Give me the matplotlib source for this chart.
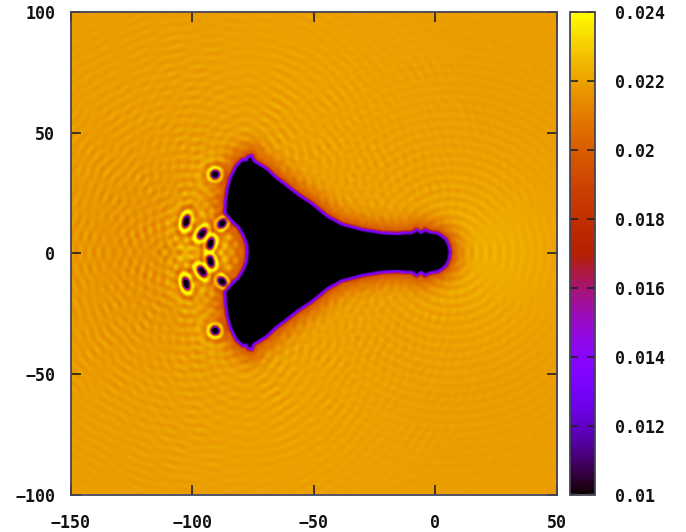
import numpy as np
import matplotlib
matplotlib.use('Agg')
import matplotlib.pyplot as plt
from matplotlib.path import Path

# Upper half of the hole outline (x, y), tail tip to inner arc
outline_x = [5.6, 5.2, 4.2, 2.5, 0.5, -2.5, -4.5, -6, -8, -10, -12, -16, -22, -30, -39, -45, -51,
             -57, -62, -66, -70, -73, -75, -76, -77.2, -78, -79.5, -82, -84.5, -85.8, -86.4, -86.6,
             -86.2, -84.5, -81.2, -79, -77.8, -77.4]
outline_y = [0, 2.5, 5.0, 6.6, 7.8, 8.2, 9.2, 8.0, 9.2, 7.9, 8.0, 7.6, 7.9, 9.2, 11.6, 15, 20,
             24, 28, 31, 34.8, 36.6, 37.8, 40, 39.6, 38.2, 38.4, 36, 31, 26, 21, 17,
             15.8, 13.8, 10.6, 7, 3.5, 0]

# Vortices in the upper half: centre, stretch along and across the long axis,
# angle of the long axis, how much the bright ring leans to the left
vortex_x = [-90.9, -102.8, -88.1, -96.3, -92.8]
vortex_y = [32.4, 12.9, 12.0, 7.9, 3.7]
vortex_a = [1.0, 1.45, 1.15, 1.4, 1.4]
vortex_b = [1.0, 0.85, 0.85, 0.85, 0.85]
vortex_angle = [0, 75, 50, 55, 75]
vortex_skew = [0.0, 0.45, -0.35, 0.45, -0.45]

# Value against distance from the hole edge and from a vortex centre
edge_dist = [-60, -0.6, -0.1, 0.6, 1.0, 1.5, 3.0, 5.0, 7.5, 11, 300]
edge_val = [0.0100, 0.0100, 0.0130, 0.0138, 0.0178, 0.0199, 0.0205, 0.0211, 0.0216, 0.0219, 0.0219]
vortex_r = [0, 1.1, 1.5, 1.9, 2.4, 2.9, 3.5, 4.2, 5.0, 6.2, 10]
vortex_dv = [-0.0120, -0.0120, -0.0085, -0.0030, 0.0014, 0.0026, 0.0008, -0.0008, -0.0004, 0.0003, 0.0]

# Ripple sources (upper half, mirrored below): x, y, amplitude, wavelength
wave_x = [-77, -91, -103, -88, -96, -60, -30, 6, -86, -45]
wave_y = [40, 32, 13, 12, 8, 28, 10, 2, 16, 15]
wave_amp = [0.00022, 0.00016, 0.00035, 0.00016, 0.00022, 0.00009, 0.00006, 0.00018, 0.00016, 0.00006]
wave_len = [3.9, 3.5, 3.8, 3.3, 3.6, 4.2, 3.4, 3.7, 3.3, 3.9]

# Slow changes in the background: x, y, width, height
glow_x = [24, -118, -50, -60]
glow_y = [0, 0, 60, -60]
glow_w = [20, 28, 35, 35]
glow_h = [0.0004, -0.0003, 0.0001, 0.0001]

xticks = [-150, -100, -50, 0, 50]
yticks = [-100, -50, 0, 50, 100]
cticks = [0.01, 0.012, 0.014, 0.016, 0.018, 0.02, 0.022, 0.024]
clabels = ['0.01', '0.012', '0.014', '0.016', '0.018', '0.02', '0.022', '0.024']


def edge_distance(X, Y, px, py):
    d2 = np.full(X.shape, np.inf)
    for i in range(len(px) - 1):
        ex, ey = px[i + 1] - px[i], py[i + 1] - py[i]
        t = ((X - px[i]) * ex + (Y - py[i]) * ey) / (ex * ex + ey * ey)
        t = np.clip(t, 0, 1)
        d2 = np.minimum(d2, (X - px[i] - t * ex) ** 2 + (Y - py[i] - t * ey) ** 2)
    dist = np.sqrt(d2)
    inside = Path(np.column_stack([px, py])).contains_points(
        np.column_stack([X.ravel(), Y.ravel()])).reshape(X.shape)
    dist[inside] *= -1
    return dist


xs = np.arange(-150, 50.01, 0.5)
ys = np.arange(-100, 100.01, 0.5)
X, Y = np.meshgrid(xs, ys)

ox, oy = np.array(outline_x), np.array(outline_y)
px = np.concatenate([ox, ox[-2::-1]])
py = np.concatenate([oy, -oy[-2::-1]])
dist = edge_distance(X, Y, px, py)
Z = np.interp(dist, edge_dist, edge_val)

# ripples fade out going into the hole
ripple = np.zeros_like(Z)
for wx, wy, amp, wl in zip(wave_x, wave_y, wave_amp, wave_len):
    for sign in (1, -1):
        r = np.hypot(X - wx, Y - sign * wy) + 1e-3
        ripple += amp * np.cos(2 * np.pi * r / wl) * np.exp(-r / 40) * np.minimum(1, 10 / np.sqrt(r + 1))
for gx, gy, gw, gh in zip(glow_x, glow_y, glow_w, glow_h):
    ripple += gh * np.exp(-((X - gx) ** 2 + (Y - gy) ** 2) / (2 * gw ** 2))
Z = Z + ripple * np.clip((dist - 1) / 3, 0, 1)

# vortices on top, only outside the hole
outside = np.clip(dist / 1.0, 0, 1)
for vx, vy, a, b, ang, skew in zip(vortex_x, vortex_y, vortex_a, vortex_b, vortex_angle, vortex_skew):
    th = np.radians(ang)
    for sign in (1, -1):
        dx, dy = X - vx, Y - sign * vy
        u = dx * np.cos(th) + sign * dy * np.sin(th)
        v = -dx * np.sin(th) + sign * dy * np.cos(th)
        rr = np.hypot(u / a, v / b)
        dv = np.interp(rr, vortex_r, vortex_dv)
        lean = 1 - skew * dx / (np.hypot(dx, dy) + 1e-3)
        Z = Z + np.where(dv > 0, dv * lean, dv) * outside
Z = np.clip(Z, 0.01, 0.024)

fig = plt.figure(figsize=(6.86, 5.32), dpi=100)
W, H = 686.0, 532.0
ax = fig.add_axes([70.5 / W, 1 - 494.5 / H, 486.5 / W, 482.5 / H])
im = ax.imshow(Z, origin='lower', extent=[-150, 50, -100, 100], cmap='gnuplot',
               vmin=0.01, vmax=0.024, aspect='auto', interpolation='bilinear')

font = dict(family='DejaVu Sans Mono', fontweight='bold', fontsize=12, color='#111111')
ax.set_xticks(xticks)
ax.set_yticks(yticks)
ax.set_xticklabels([str(v).replace('-', '\u2212') for v in xticks], **font)
ax.set_yticklabels([str(v).replace('-', '\u2212') for v in yticks], **font)
ax.tick_params(direction='in', length=7, width=1.2, color='#222222', top=True, right=True)
ax.tick_params(axis='x', pad=14)
ax.tick_params(axis='y', pad=11)
for s in ax.spines.values():
    s.set_color('#444455')
    s.set_linewidth(1.3)

cax = fig.add_axes([569.5 / W, 1 - 494.5 / H, 25 / W, 482.5 / H])
cb = fig.colorbar(im, cax=cax)
cb.set_ticks(cticks)
cb.set_ticklabels(clabels, **font)
cax.tick_params(direction='in', length=6, width=1.2, color='#222222', left=True, right=True, pad=15)
cb.outline.set_edgecolor('#444455')
cb.outline.set_linewidth(1.3)

fig.savefig('out.png', dpi=100)
